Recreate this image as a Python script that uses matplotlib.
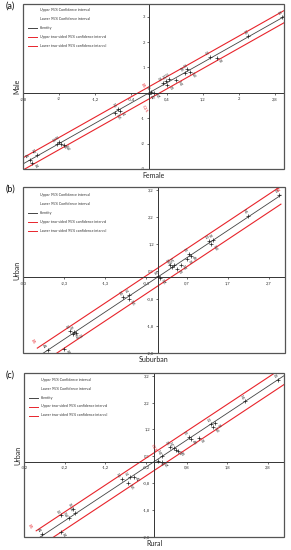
import matplotlib
matplotlib.use("Agg")
import matplotlib.pyplot as plt
from matplotlib.patches import Rectangle
from matplotlib.ticker import FuncFormatter
import numpy as np

plt.rcParams['font.family'] = ['Lato', 'DejaVu Sans']

# ---------------- data ----------------
# Panel (a): Female (x) vs Male (y)
a_x = [2.95, 2.2, 1.35, 1.5, 0.85, 0.9, 0.8, 0.3, 0.38, 0.45, 0.4, 0.6, 0.05, 0.1, 0.0,
       -0.7, -0.65, -0.75, -2.0, -1.95, -2.05, -1.9, -2.5, -2.65, -2.6]
a_y = [3.0, 2.25, 1.42, 1.38, 0.92, 0.82, 0.8, 0.4, 0.45, 0.55, 0.3, 0.5, 0.05, 0.0, -0.05,
       -0.65, -0.72, -0.8, -1.92, -2.0, -2.02, -2.05, -2.45, -2.65, -2.75]
a_lab = ["E1", "N1", "C2", "S2", "C5", "W3", "A4", "C8", "NC", "C1", "E3", "N4", "S1", "W1", "A2",
         "N5", "S4", "W5", "E2", "S5", "C4", "W2", "N2", "A1", "E4"]
a_out_x = [-0.15, -0.1]
a_out_y = [0.3, -0.65]
a_out_lab = ["E5", "C15"]
a_xticks = [-2.8, -2.0, -1.2, -0.4, 0.4, 1.2, 2.0, 2.8]
a_yticks = [-3, -2, -1, 1, 2, 3]

# Panel (b): Suburban (x) vs Urban (y)
b_x = [2.95, 2.2, 1.25, 1.35, 1.3, 0.75, 0.8, 0.7, 0.3, 0.4, 0.35, 0.45, 0.55, 0.0, 0.05,
       -0.85, -0.7, -0.72, -2.15, -2.05, -2.0, -2.08, -2.7, -2.3]
b_y = [3.0, 2.25, 1.32, 1.35, 1.2, 0.85, 0.78, 0.65, 0.45, 0.45, 0.35, 0.3, 0.45, 0.02, -0.05,
       -0.75, -0.68, -0.82, -2.0, -2.02, -2.08, -2.1, -2.7, -2.65]
b_lab = ["E1", "N1", "C2", "S2", "W3", "C5", "A4", "S3", "C8", "NC", "C1", "E3", "N4", "S1", "W1",
         "N5", "S4", "W5", "E2", "S5", "C4", "W2", "A1", "E4"]
b_out_x = [-3.05, 2.9]
b_out_y = [-2.4, 3.2]
b_out_lab = ["E5", "A1"]
b_xticks = [-3.3, -2.3, -1.3, -0.3, 0.7, 1.7, 2.7]
b_yticks = [-2.8, -1.8, -0.8, 0.2, 1.2, 2.2, 3.2]

# Panel (c): Rural (x) vs Urban (y)
c_x = [3.05, 2.25, 1.4, 1.5, 1.45, 0.85, 0.9, 1.1, 0.4, 0.5, 0.55, 0.6, 0.2, 0.1, 0.2,
       -0.8, -0.6, -0.5, -0.65, -2.3, -2.0, -1.95, -2.1, -2.75, -2.3]
c_y = [3.05, 2.25, 1.42, 1.45, 1.3, 0.92, 0.85, 0.9, 0.55, 0.5, 0.45, 0.4, 0.2, 0.02, 0.0,
       -0.65, -0.58, -0.55, -0.8, -2.0, -1.75, -1.9, -2.1, -2.7, -2.6]
c_lab = ["E1", "N1", "C2", "S2", "W3", "C5", "A4", "S3", "C8", "NC", "C1", "E3", "N4", "S1", "W1",
         "N5", "S4", "A2", "W5", "E2", "S5", "C4", "W2", "A1", "E4"]
c_out_x = [0.0, -3.05]
c_out_y = [0.5, -2.4]
c_out_lab = ["C15", "E5"]
c_xticks = [-3.2, -2.2, -1.2, -0.2, 0.8, 1.8, 2.8]
c_yticks = [-2.8, -1.8, -0.8, 0.2, 1.2, 2.2, 3.2]

legend_labels = ["Upper 95% Confidence interval", "Lower 95% Confidence interval", "Identity",
                 "Upper two-sided 95% confidence interval", "Lower two-sided 95% confidence interval"]

# ---------------- figure ----------------
W, H = 291, 550
fig = plt.figure(figsize=(W / 100, H / 100), dpi=100)

RED = "#e8242b"
FRAME = "#555555"


def comma(v, pos=None):
    if abs(v - round(v)) < 1e-9 and abs(v) >= 1:
        return "%d" % round(v)
    return ("%.1f" % v).replace(".", ",")


def panel(rect_px, xs, ys, labs, oxs, oys, olabs, xlim, ylim, xticks, yticks,
          line_rng, ci, xlabel, ylabel, tag, leg_top):
    l, t, r, b = rect_px
    ax = fig.add_axes([l / W, 1 - b / H, (r - l) / W, (b - t) / H])
    ax.set_xlim(*xlim)
    ax.set_ylim(*ylim)
    for s in ["top", "right"]:
        ax.spines[s].set_visible(False)
    ax.spines["left"].set_position(("data", 0))
    ax.spines["bottom"].set_position(("data", 0))
    for s in ["left", "bottom"]:
        ax.spines[s].set_linewidth(0.7)
        ax.spines[s].set_color("#333333")
    ax.add_patch(Rectangle((0, 0), 1, 1, transform=ax.transAxes, fill=False,
                           lw=0.9, ec=FRAME, clip_on=False, zorder=5))
    ax.set_xticks(xticks)
    ax.set_yticks(yticks)
    ax.xaxis.set_major_formatter(FuncFormatter(comma))
    ax.yaxis.set_major_formatter(FuncFormatter(comma))
    ax.tick_params(length=1.5, width=0.5, labelsize=3, pad=1.5, colors="#333333")
    ax.patch.set_alpha(0)

    xl = np.array(line_rng)
    ax.plot(xl, xl, color="#444444", lw=0.6, zorder=2)
    ax.plot(xl, xl + ci, color=RED, lw=0.8, zorder=2)
    ax.plot(xl, xl - ci, color=RED, lw=0.8, zorder=2)

    ax.scatter(xs, ys, marker="+", s=5, lw=0.5, color="#222222", zorder=3)
    for x, y, lab in zip(xs, ys, labs):
        side = 1 if y >= x else -1
        ax.annotate(lab, (x, y), xytext=(-2.5 * side, 2.5 * side), textcoords="offset points",
                    fontsize=2.6, rotation=-60, ha="center", va="center", color="#333333")
    for x, y, lab in zip(oxs, oys, olabs):
        ax.annotate(lab, (x, y), xytext=(0, 0), textcoords="offset points",
                    fontsize=3.2, rotation=-60, ha="center", va="center", color=RED)

    # manual legend
    hpx = b - t
    wpx = r - l
    colors = ["white", "white", "#444444", RED, RED]
    for i, (lab, col) in enumerate(zip(legend_labels, colors)):
        yy = 1 - (leg_top + 9 * i) / hpx
        ax.plot([5 / wpx, 14 / wpx], [yy, yy], transform=ax.transAxes, color=col,
                lw=0.7, clip_on=False)
        ax.text(17 / wpx, yy, lab, transform=ax.transAxes, fontsize=2.6,
                va="center", ha="left", color="#333333")

    ax.text(-6 / wpx, 0.5, ylabel, transform=ax.transAxes, rotation=90,
            fontsize=5, ha="center", va="center", color="#222222")
    ax.text(0.5, -7 / hpx, xlabel, transform=ax.transAxes,
            fontsize=5, ha="center", va="center", color="#222222")
    fig.text(10 / W, 1 - (t + 2) / H, tag, fontsize=6.5, ha="center", va="center", color="#111111")
    return ax


panel((23, 4, 284, 169), a_x, a_y, a_lab, a_out_x, a_out_y, a_out_lab,
      (-2.8, 3.0), (-3.0, 3.5), a_xticks, a_yticks, (-2.8, 3.0), 0.24,
      "Female", "Male", "(a)", 6)
panel((23, 187, 285, 353), b_x, b_y, b_lab, b_out_x, b_out_y, b_out_lab,
      (-3.3, 3.1), (-2.8, 3.3), b_xticks, b_yticks, (-2.95, 3.0), 0.33,
      "Suburban", "Urban", "(b)", 8)
panel((24, 373, 284, 537), c_x, c_y, c_lab, c_out_x, c_out_y, c_out_lab,
      (-3.2, 3.2), (-2.8, 3.3), c_xticks, c_yticks, (-2.9, 3.2), 0.33,
      "Rural", "Urban", "(c)", 6.5)

fig.savefig("out.png", dpi=100)
